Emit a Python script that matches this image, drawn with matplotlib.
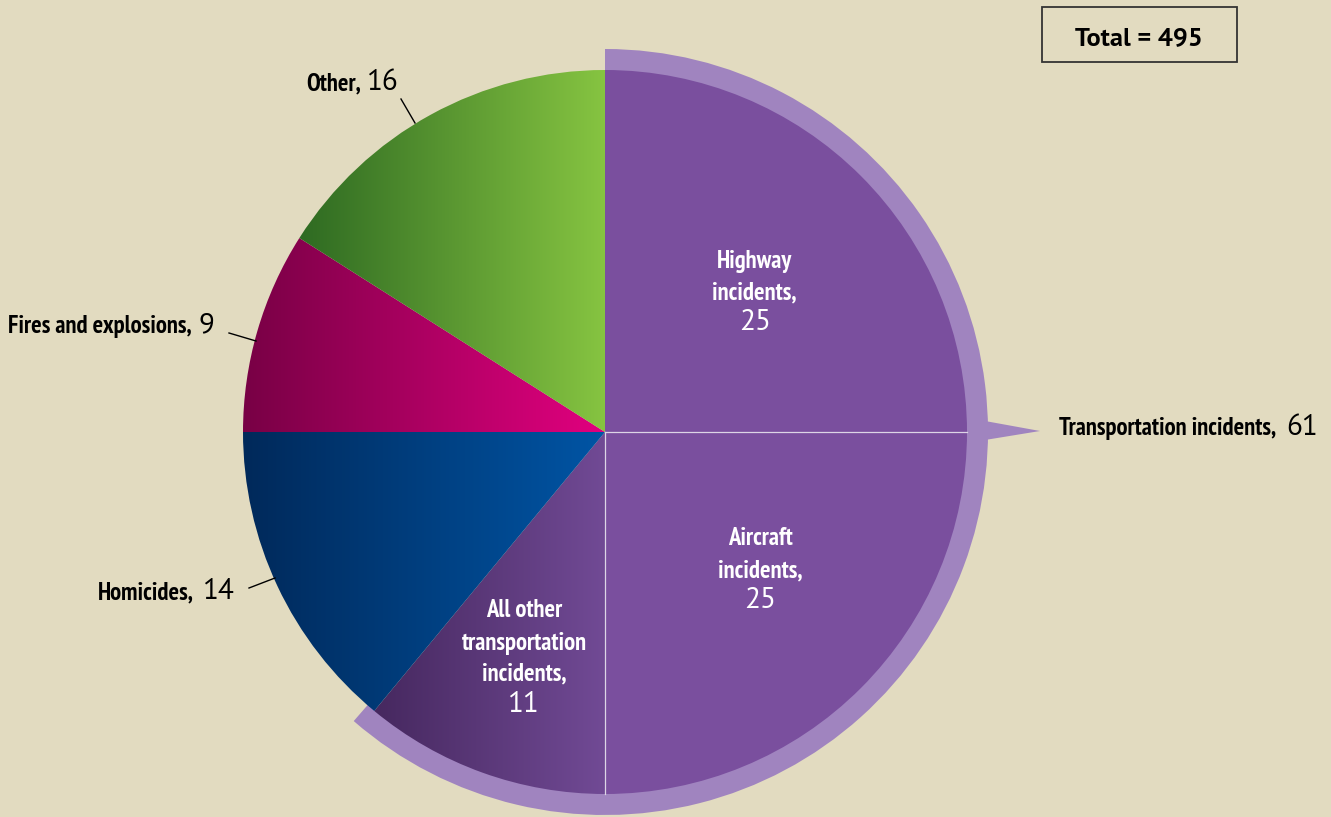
import matplotlib.pyplot as plt
import numpy as np
from matplotlib.patches import Wedge, Polygon, Rectangle
from matplotlib.colors import LinearSegmentedColormap
from matplotlib import font_manager

W, H = 1331, 817

# data (percent of 495 fatal work injuries)
slices = ["Highway incidents", "Aircraft incidents", "All other transportation incidents",
          "Homicides", "Fires and explosions", "Other"]
values = [25, 25, 11, 14, 9, 16]
transport_label = "Transportation incidents,"
transport_value = 61
total_value = 495

# (dark left colour, main colour) per slice
colors = [("#7a4f9e", "#7a4f9e"),
          ("#7a4f9e", "#7a4f9e"),
          ("#46285f", "#714a95"),
          ("#00295a", "#0055a5"),
          ("#780045", "#e2007f"),
          ("#2e6a22", "#86c441")]

bg = "#e2dbc0"
ring_color = "#a084bf"

# static (non-variable) font files only, so the weights are real
static = [f for f in font_manager.fontManager.ttflist if "[" not in f.fname]
regular_names = {f.name for f in static if f.weight in (400, "normal", "regular")}
bold_names = {f.name for f in static if f.weight in (700, "bold")}


def pick(prefs, pool):
    for p in prefs:
        if p in pool:
            return p
    return "DejaVu Sans"


cond_font = pick(["Myriad Pro", "PT Sans Narrow", "Fira Sans Extra Condensed",
                  "Fira Sans Condensed", "Asap Condensed", "Archivo Narrow",
                  "Liberation Sans Narrow"], bold_names)
num_font = pick(["Myriad Pro", "PT Sans", "Fira Sans", "Noto Sans", "Lato", "Open Sans"],
                regular_names)
total_font = pick(["Myriad Pro", "PT Sans", "Fira Sans", "Noto Sans", "Lato",
                   "Liberation Sans"], bold_names)


def Y(py):
    # pixel row -> data y
    return H - py


fig = plt.figure(figsize=(W / 100, H / 100), dpi=100, facecolor=bg)
ax = fig.add_axes([0, 0, 1, 1])
ax.set_facecolor(bg)
ax.set_xlim(0, W)
ax.set_ylim(0, H)
renderer = fig.canvas.get_renderer()


def fitted_size(text, target_px, **kw):
    t = fig.text(0, 0, text, fontsize=20, **kw)
    w = t.get_window_extent(renderer).width
    t.remove()
    return 20 * target_px / w


bold = dict(family=[cond_font, "DejaVu Sans"], weight="bold")
bold["fontsize"] = fitted_size(transport_label, 218, **bold)
num = dict(family=[num_font, "DejaVu Sans"], weight="normal")
num["fontsize"] = fitted_size("25", 32, **num)
tot = dict(family=[total_font, "DejaVu Sans"], weight="bold")
tot["fontsize"] = fitted_size(f"Total = {total_value}", 128, **tot)

cx, cy, r = 605, Y(432), 362

# outer ring around the transportation slices
ring = Wedge((cx, cy), 383, -131, 90, width=23, facecolor=ring_color,
             edgecolor="none", zorder=1)
ax.add_patch(ring)
ax.add_patch(Polygon([(985, Y(421)), (1040, Y(431)), (985, Y(440))],
                     closed=True, facecolor=ring_color, edgecolor="none", zorder=1))

wedges, _ = ax.pie(values, startangle=90, counterclock=False, center=(cx, cy),
                   radius=r, colors=[c[1] for c in colors], frame=True,
                   wedgeprops=dict(edgecolor="none", linewidth=0, zorder=3))

# horizontal gradients clipped to each wedge
for w, (c0, c1) in zip(wedges, colors):
    if c0 == c1:
        continue
    v = w.get_path().vertices
    x0, x1 = v[:, 0].min(), v[:, 0].max()
    y0, y1 = v[:, 1].min(), v[:, 1].max()
    cmap = LinearSegmentedColormap.from_list("g", [c0, c1])
    grad = np.linspace(0, 1, 256).reshape(1, -1)
    im = ax.imshow(grad, cmap=cmap, extent=(x0, x1, y0, y1), aspect="auto",
                   zorder=2, interpolation="bilinear")
    im.set_clip_path(w)
    w.set_facecolor("none")

# thin light separators between the transportation slices
for w in wedges[:2]:
    a = np.deg2rad(w.theta1)
    ax.plot([cx, cx + r * np.cos(a)], [cy, cy + r * np.sin(a)],
            color="#ddd5e6", lw=0.9, zorder=4)


def put(x, py, s, style, color="black", ha="center"):
    ax.text(x, Y(py), s, color=color, ha=ha, va="baseline", zorder=5, **style)


# labels inside the transportation slices
put(754, 268, "Highway", bold, "white")
put(754, 299, "incidents,", bold, "white")
put(755, 330, str(values[0]), num, "white")
put(760, 545, "Aircraft", bold, "white")
put(760, 577, "incidents,", bold, "white")
put(760, 608, str(values[1]), num, "white")
put(524, 617, "All other", bold, "white")
put(524, 650, "transportation", bold, "white")
put(524, 680, "incidents,", bold, "white")
put(524, 712, str(values[2]), num, "white")

# outside labels
put(1059, 435, transport_label, bold, ha="left")
put(1286, 435, str(transport_value), num, ha="left")

put(194, 599, "Homicides,", bold, ha="right")
put(203, 599, str(values[3]), num, ha="left")
ax.plot([249, 275], [Y(588), Y(578)], color="black", lw=1, zorder=4)

put(192, 333, "Fires and explosions,", bold, ha="right")
put(199, 333, str(values[4]), num, ha="left")
ax.plot([229, 256], [Y(333), Y(341)], color="black", lw=1, zorder=4)

put(361, 90, "Other,", bold, ha="right")
put(367, 90, str(values[5]), num, ha="left")
ax.plot([401, 415], [Y(99), Y(123)], color="black", lw=1, zorder=4)

# total box
ax.add_patch(Rectangle((1042, Y(62)), 195, 55, facecolor="none", edgecolor="#333333",
                       lw=1.3, zorder=4))
put(1139, 45, f"Total = {total_value}", tot)

ax.set_xlim(0, W)
ax.set_ylim(0, H)
ax.set_aspect("auto")
ax.axis("off")

fig.savefig("out.png", dpi=100, facecolor=bg)
